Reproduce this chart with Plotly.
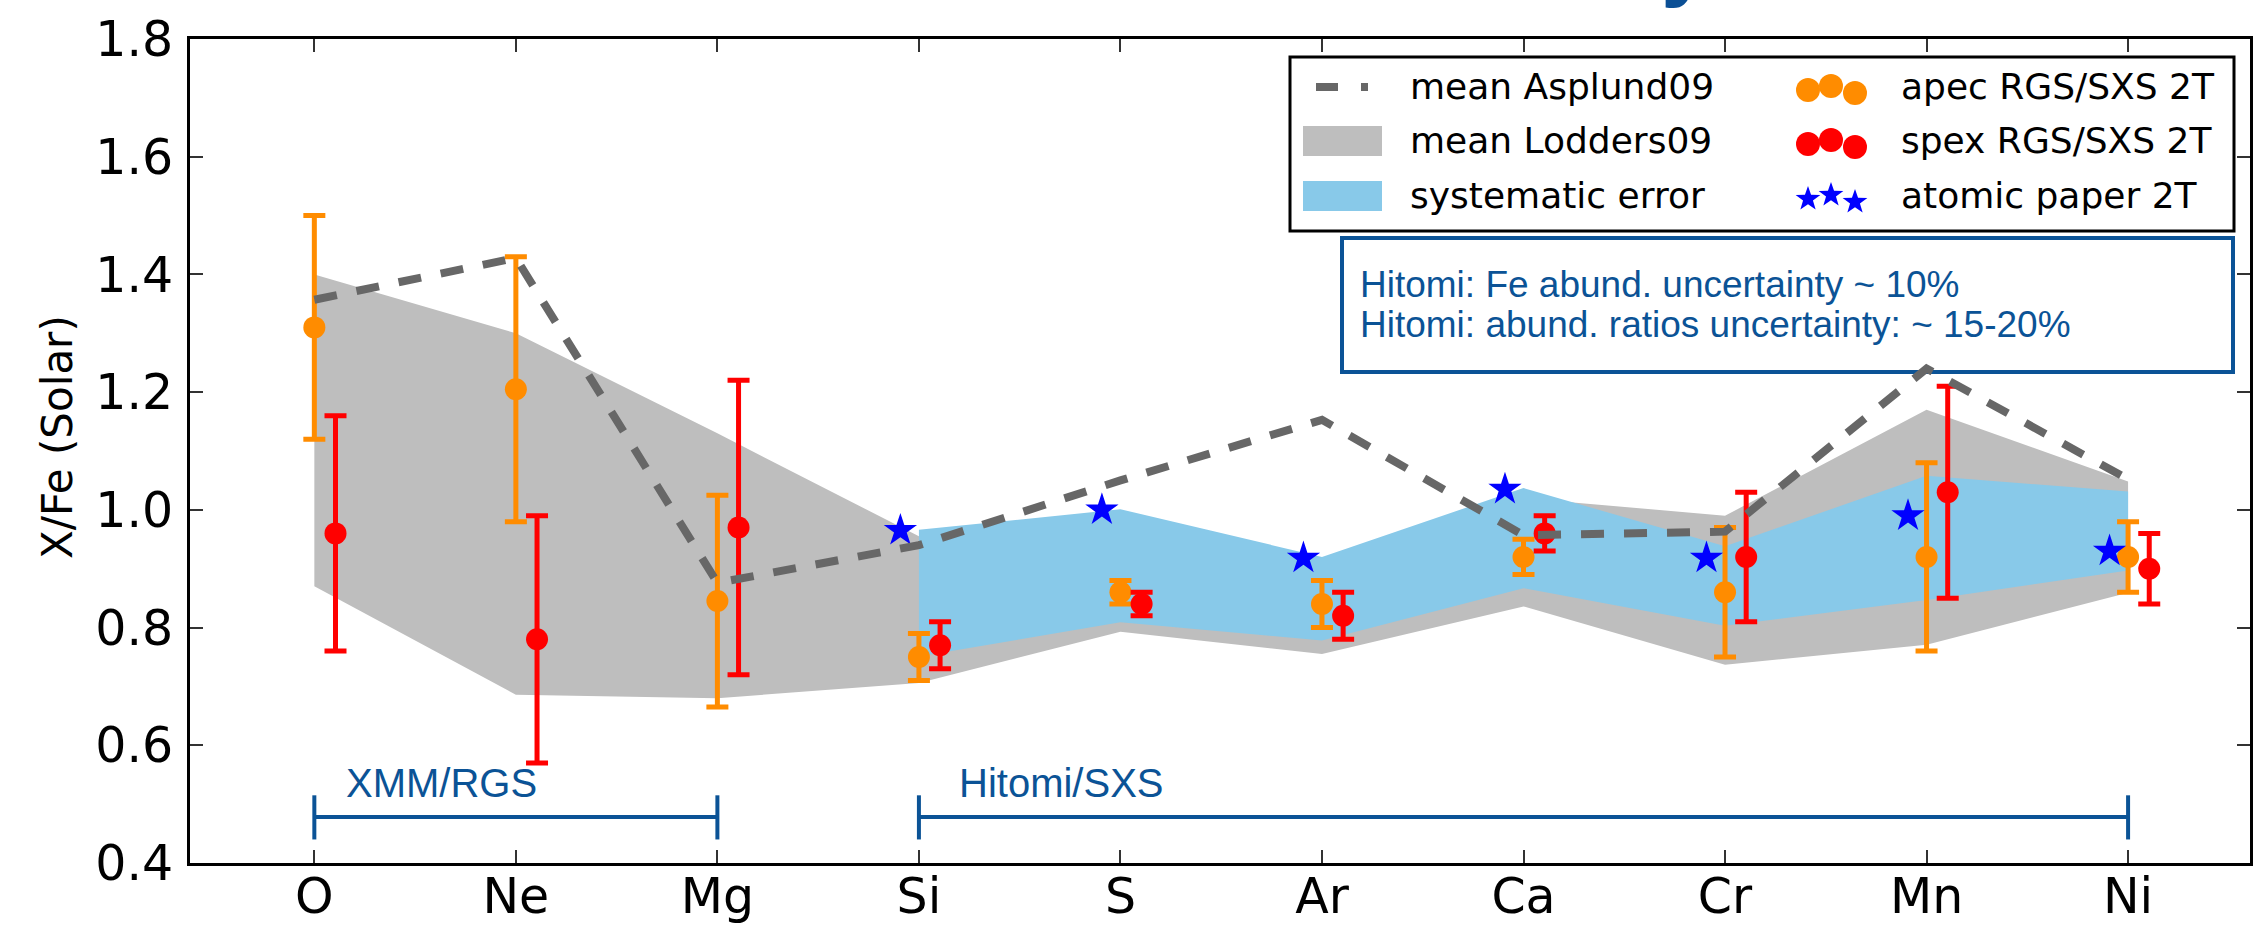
import math
import plotly.graph_objects as go

# ---- data -------------------------------------------------------------
elements = ["O", "Ne", "Mg", "Si", "S", "Ar", "Ca", "Cr", "Mn", "Ni"]

# apec RGS/SXS 2T fits
apec = [1.31, 1.205, 0.845, 0.75, 0.86, 0.84, 0.92, 0.86, 0.92, 0.92]
apec_err = [0.19, 0.225, 0.18, 0.04, 0.02, 0.04, 0.03, 0.11, 0.16, 0.06]

# spex RGS/SXS 2T fits
spex = [0.96, 0.78, 0.97, 0.77, 0.84, 0.82, 0.96, 0.92, 1.03, 0.90]
spex_err = [0.20, 0.21, 0.25, 0.04, 0.02, 0.04, 0.03, 0.11, 0.18, 0.06]

# atomic paper 2T (SXS elements only)
atomic_elements = ["Si", "S", "Ar", "Ca", "Cr", "Mn", "Ni"]
atomic = [0.965, 1.0, 0.918, 1.035, 0.918, 0.99, 0.93]

# mean ratios with Asplund09 solar table
asplund = [1.357, 1.428, 0.876, 0.94, 1.05, 1.153, 0.957, 0.963, 1.24, 1.052]

# mean ratios with Lodders09 solar table (band limits)
lodders_hi = [1.40, 1.30, 1.13, 0.955, 0.99, 0.905, 1.02, 0.99, 1.17, 1.048]
lodders_lo = [0.87, 0.686, 0.68, 0.706, 0.793, 0.755, 0.836, 0.737, 0.771, 0.859]

# systematic error band (SXS elements only)
syst_hi = [0.966, 1.001, 0.92, 1.037, 0.938, 1.058, 1.031]
syst_lo = [0.751, 0.809, 0.778, 0.867, 0.803, 0.847, 0.897]

y_ticks = [0.4, 0.6, 0.8, 1.0, 1.2, 1.4, 1.6, 1.8]
y_tick_labels = ["0.4", "0.6", "0.8", "1.0", "1.2", "1.4", "1.6", "1.8"]

legend_lines = ["mean Asplund09", "mean Lodders09", "systematic error"]
legend_points = ["apec RGS/SXS 2T", "spex RGS/SXS 2T", "atomic paper 2T"]
note_lines = ["Hitomi: Fe abund. uncertainty ~ 10%",
              "Hitomi: abund. ratios uncertainty: ~ 15-20%"]
instrument_labels = ["XMM/RGS", "Hitomi/SXS"]

# ---- styling ----------------------------------------------------------
ORANGE = "#ff8c00"
RED = "#ff0000"
STAR_BLUE = "#0000ff"
GRAY_FILL = "#bebebe"
SKY_FILL = "#88c9e9"
DASH_GRAY = "#676767"
NOTE_BLUE = "#0b5396"
TICK_FONT = "DejaVu Sans"
NOTE_FONT = "Liberation Sans, Arial, sans-serif"

W, H = 2255, 927
ML, MR, MT, MB = 190, 5, 39, 64
PW, PH = W - ML - MR, H - MT - MB

OFF_SPEX = 0.105
OFF_ATOMIC = -0.092


def px(x):
    """page pixel x -> paper coordinate"""
    return (x - ML) / PW


def py(y):
    """page pixel y -> paper coordinate"""
    return (H - MB - y) / PH


def star_path(r_out, r_in):
    """five-pointed star outline in pixels around its centre, tip up"""
    pts = []
    for k in range(10):
        r = r_out if k % 2 == 0 else r_in
        a = math.radians(90 + 36 * k)
        pts.append((r * math.cos(a), r * math.sin(a)))
    return "M" + " L".join(f"{x:.2f},{y:.2f}" for x, y in pts) + " Z"


pos = list(range(len(elements)))
sxs_pos = [elements.index(e) for e in atomic_elements]

fig = go.Figure()

# Lodders09 band
fig.add_trace(go.Scatter(
    x=pos + pos[::-1], y=lodders_hi + lodders_lo[::-1],
    fill="toself", fillcolor=GRAY_FILL, mode="lines", line=dict(width=0),
    hoverinfo="skip"))

# systematic error band
fig.add_trace(go.Scatter(
    x=sxs_pos + sxs_pos[::-1], y=syst_hi + syst_lo[::-1],
    fill="toself", fillcolor=SKY_FILL, mode="lines", line=dict(width=0),
    hoverinfo="skip"))

# apec points
fig.add_trace(go.Scatter(
    x=pos, y=apec, mode="markers",
    marker=dict(color=ORANGE, size=22, line=dict(width=0)),
    error_y=dict(type="data", array=apec_err, color=ORANGE, thickness=5, width=11)))

# spex points
fig.add_trace(go.Scatter(
    x=[p + OFF_SPEX for p in pos], y=spex, mode="markers",
    marker=dict(color=RED, size=22, line=dict(width=0)),
    error_y=dict(type="data", array=spex_err, color=RED, thickness=5, width=11)))

# atomic paper
fig.add_trace(go.Scatter(
    x=[p + OFF_ATOMIC for p in sxs_pos], y=atomic, mode="markers",
    marker=dict(color=STAR_BLUE, size=25, symbol="star", line=dict(width=0))))

# Asplund09 mean
fig.add_trace(go.Scatter(
    x=pos, y=asplund, mode="lines",
    line=dict(color=DASH_GRAY, width=8, dash="23px,20px")))

shapes = []
annotations = []

# instrument coverage brackets
BR_Y, BR_LO, BR_HI = 0.478, 0.44, 0.515
for (a, b) in [(elements.index("O"), elements.index("Mg")),
               (elements.index("Si"), elements.index("Ni"))]:
    shapes.append(dict(type="line", xref="x", yref="y", x0=a, x1=b, y0=BR_Y, y1=BR_Y,
                       line=dict(color=NOTE_BLUE, width=4)))
    for e in (a, b):
        shapes.append(dict(type="line", xref="x", yref="y", x0=e, x1=e, y0=BR_LO, y1=BR_HI,
                           line=dict(color=NOTE_BLUE, width=4)))

for label, x0 in zip(instrument_labels, [0.147, 3.19]):
    annotations.append(dict(text=label, xref="x", yref="y", x=x0, y=0.495,
                            xanchor="left", yanchor="bottom", showarrow=False,
                            font=dict(family=NOTE_FONT, size=40, color=NOTE_BLUE)))

# uncertainty note box
shapes.append(dict(type="rect", xref="paper", yref="paper", layer="below",
                   x0=px(1342), x1=px(2233), y0=py(372), y1=py(238),
                   line=dict(color=NOTE_BLUE, width=4)))
for line_txt, ymid in zip(note_lines, [284, 325]):
    annotations.append(dict(text=line_txt, xref="paper", yref="paper",
                            x=px(1358), y=py(ymid), xanchor="left", yanchor="middle",
                            align="left", showarrow=False,
                            font=dict(family=NOTE_FONT, size=37, color=NOTE_BLUE)))

# legend frame
shapes.append(dict(type="rect", xref="paper", yref="paper", layer="above",
                   x0=px(1290), x1=px(2234), y0=py(231), y1=py(57),
                   fillcolor="white", line=dict(color="black", width=3)))

row_y = [87, 141, 196]
# legend keys, first column
shapes.append(dict(type="line", xref="paper", yref="paper", layer="above",
                   x0=px(1316), x1=px(1368), y0=py(row_y[0]), y1=py(row_y[0]),
                   line=dict(color=DASH_GRAY, width=8, dash="22px,23px")))
for r, col in zip(row_y[1:], [GRAY_FILL, SKY_FILL]):
    shapes.append(dict(type="rect", xref="paper", yref="paper", layer="above",
                       x0=px(1303), x1=px(1382), y0=py(r + 15), y1=py(r - 15),
                       fillcolor=col, line=dict(width=0)))
for r, txt in zip(row_y, legend_lines):
    annotations.append(dict(text=txt, xref="paper", yref="paper", x=px(1408), y=py(r),
                            xanchor="left", yanchor="middle", showarrow=False,
                            font=dict(family=TICK_FONT, size=36, color="black")))

# legend keys, second column (three scatter points each)
key_dx = [1808, 1831, 1855]
key_dy = [3, -1, 6]
STAR = star_path(13, 5.2)
for r, kind, col, txt in zip(row_y, ["dot", "dot", "star"],
                             [ORANGE, RED, STAR_BLUE], legend_points):
    for dx, dy in zip(key_dx, key_dy):
        common = dict(xref="paper", yref="paper", xsizemode="pixel", ysizemode="pixel",
                      xanchor=px(dx), yanchor=py(r + dy), layer="above",
                      fillcolor=col, line=dict(width=0))
        if kind == "dot":
            shapes.append(dict(type="circle", x0=-12, x1=12, y0=-12, y1=12, **common))
        else:
            shapes.append(dict(type="path", path=STAR, **common))
    annotations.append(dict(text=txt, xref="paper", yref="paper", x=px(1899), y=py(r),
                            xanchor="left", yanchor="middle", showarrow=False,
                            font=dict(family=TICK_FONT, size=36, color="black")))

# y-axis title
annotations.append(dict(text="X/Fe (Solar)", xref="paper", yref="paper",
                        x=px(57), y=py(437), xanchor="center", yanchor="middle",
                        textangle=-90, showarrow=False,
                        font=dict(family=TICK_FONT, size=42, color="black")))

# heading above the frame (only its lower tail falls on the page)
annotations.append(dict(text="<b>y</b>", xref="paper", yref="paper",
                        x=px(1686), y=py(10), xanchor="center", yanchor="bottom",
                        showarrow=False,
                        font=dict(family="Liberation Sans", size=90, color="#0b4f95")))

axis_common = dict(showline=True, linewidth=3, linecolor="black", mirror="ticks",
                   ticks="inside", ticklen=13, tickwidth=2, tickcolor="#333333",
                   showgrid=False, zeroline=False,
                   tickfont=dict(family=TICK_FONT, size=49, color="black"))

fig.update_layout(
    width=W, height=H,
    margin=dict(l=ML, r=MR, t=MT, b=MB, pad=0, autoexpand=False),
    plot_bgcolor="white", paper_bgcolor="white",
    showlegend=False,
    shapes=shapes, annotations=annotations,
    xaxis=dict(range=[-0.617, 9.605], tickmode="array", tickvals=pos, ticktext=elements,
               ticklabelstandoff=-12, **axis_common),
    yaxis=dict(range=[0.4, 1.8], tickmode="array", tickvals=y_ticks, ticktext=y_tick_labels,
               ticklabelstandoff=4, **axis_common),
)

fig.write_html("out.html")
